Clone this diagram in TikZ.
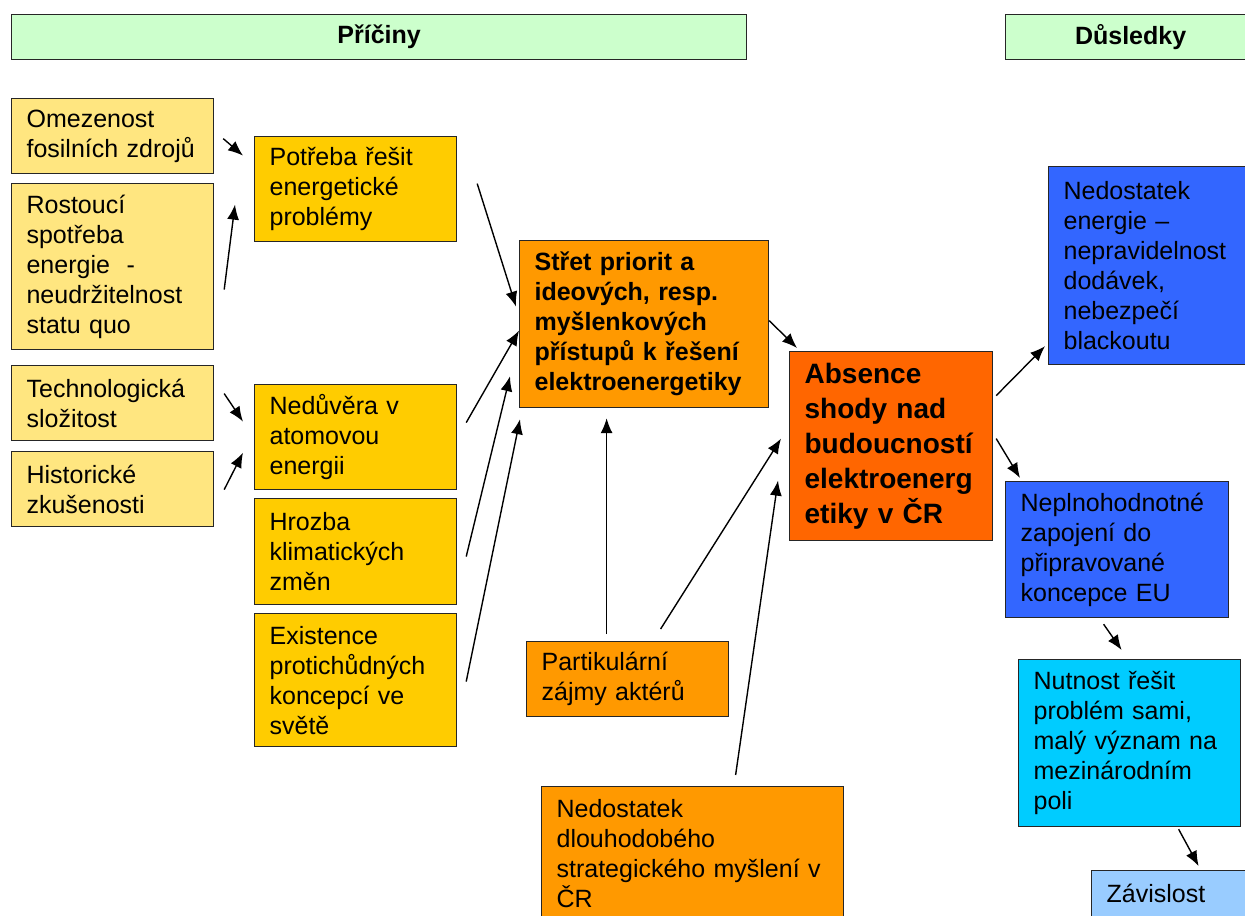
\documentclass[tikz,border=0pt]{standalone}
\usepackage{fontspec}
\setmainfont{Liberation Sans}
\usepackage{tikz}
\usetikzlibrary{arrows.meta}

\definecolor{headgreen}{HTML}{CCFFCC}
\definecolor{paleyellow}{HTML}{FFE680}
\definecolor{causeyellow}{HTML}{FFCC00}
\definecolor{coreorange}{HTML}{FF9900}
\definecolor{resultorange}{HTML}{FF6600}
\definecolor{effectblue}{HTML}{3366FF}
\definecolor{effectcyan}{HTML}{00CCFF}
\definecolor{effectpale}{HTML}{99CCFF}

\newcommand{\bodyfont}{\fontsize{12.5pt}{15pt}\selectfont}

\begin{document}
\begin{tikzpicture}[x=0.5pt,y=-0.5pt,
    head/.style={draw=black!85,line width=0.6pt,fill=headgreen,anchor=north west,inner sep=0pt,font=\bodyfont\bfseries},
    box/.style={draw=black!85,line width=0.6pt,anchor=north west,align=left,inner xsep=7.5pt,inner ysep=2pt,font=\bodyfont},
    conn/.style={-{Latex[length=7.5pt,width=6pt]},line width=0.7pt}]
  \useasboundingbox (0,0) rectangle (1245,915);
  \clip (0,0) rectangle (1245,915);

  % headers
  \node[head,minimum width=367.5pt,minimum height=22.5pt] (pric) at (11,14) {Příčiny};
  \node[head,minimum width=125pt,minimum height=22.5pt] (dusl) at (1005,14) {Důsledky};

  % causes
  \node[box,fill=paleyellow,text width=86pt,minimum height=37.5pt] (omez) at (11,98) {Omezenost\\fosilních zdrojů};
  \node[box,fill=paleyellow,text width=86pt,minimum height=83pt] (rost) at (11,183) {Rostoucí\\spotřeba\\energie\ \ -\\neudržitelnost\\statu quo};
  \node[box,fill=paleyellow,text width=86pt,minimum height=37.5pt] (tech) at (11,365) {Technologická\\složitost};
  \node[box,fill=paleyellow,text width=86pt,minimum height=37.5pt] (hist) at (11,451) {Historické\\zkušenosti};

  \node[box,fill=causeyellow,text width=86pt,minimum height=52.5pt] (potreba) at (254,136) {Potřeba řešit\\energetické\\problémy};
  \node[box,fill=causeyellow,text width=86pt,minimum height=52.5pt] (neduvera) at (254,384) {Nedůvěra v\\atomovou\\energii};
  \node[box,fill=causeyellow,text width=86pt,minimum height=53pt] (hrozba) at (254,498) {Hrozba\\klimatických\\změn};
  \node[box,fill=causeyellow,text width=86pt,minimum height=66.5pt] (exist) at (254,613) {Existence\\protichůdných\\koncepcí ve\\světě};

  \node[box,fill=coreorange,text width=109.5pt,minimum height=83.5pt,font=\bodyfont\bfseries] (stret) at (519,240) {Střet priorit a\\ideových, resp.\\myšlenkových\\přístupů k řešení\\elektroenergetiky};
  \node[box,fill=coreorange,text width=86pt,minimum height=37.5pt] (partik) at (526,641) {Partikulární\\zájmy aktérů};
  \node[box,fill=coreorange,text width=136pt,minimum height=67pt] (nedlouh) at (541,786) {Nedostatek\\dlouhodobého\\strategického myšlení v\\ČR};

  \node[box,fill=resultorange,text width=86.5pt,minimum height=94.5pt,font=\fontsize{14pt}{17.5pt}\selectfont\bfseries] (absence) at (789,351) {Absence\\shody nad\\budoucností\\elektroenerg\\etiky v ČR};

  % consequences
  \node[box,fill=effectblue,text width=85pt,minimum height=99pt] (nedener) at (1048,166) {Nedostatek\\energie –\\nepravidelnost\\dodávek,\\nebezpečí\\blackoutu};
  \node[box,fill=effectblue,text width=96.5pt,minimum height=68pt] (neplno) at (1005,481) {Neplnohodnotné\\zapojení do\\připravované\\koncepce EU};
  \node[box,fill=effectcyan,text width=96pt,minimum height=83.5pt] (nutnost) at (1018,659) {Nutnost řešit\\problém sami,\\malý význam na\\mezinárodním\\poli};
  \node[box,fill=effectpale,text width=65pt,minimum height=23pt] (zavis) at (1091,870) {Závislost};

  % connectors
  \draw[conn] ([shift={(9,2.5)}]omez.east) -- ([shift={(-11,-33.5)}]potreba.west);
  \draw[conn] ([shift={(10,23)}]rost.east) -- ([shift={(-19,15.5)}]potreba.west);
  \draw[conn] ([shift={(10,-9.5)}]tech.east) -- ([shift={(-11,-15.5)}]neduvera.west);
  \draw[conn] ([shift={(10,0.5)}]hist.east) -- ([shift={(-11,15.5)}]neduvera.west);
  \draw[conn] ([shift={(20,-5.5)}]potreba.east) -- ([shift={(-3,-17.5)}]stret.west);
  \draw[conn] ([shift={(9,-14.5)}]neduvera.east) -- ([shift={(0,6.5)}]stret.west);
  \draw[conn] ([shift={(9,5)}]hrozba.east) -- ([shift={(-9,-32)}]stret.south west);
  \draw[conn] ([shift={(9,1.5)}]exist.east) -- ([shift={(1,11)}]stret.south west);
  \draw[conn] ([shift={(-21,-7)}]partik.north) -- ([shift={(-37.5,10)}]stret.south);
  \draw[conn] ([shift={(33,-12)}]partik.north) -- ([shift={(-8,-7.5)}]absence.west);
  \draw[conn] ([shift={(43,-11)}]nedlouh.north) -- ([shift={(-11,34.5)}]absence.west);
  \draw[conn] ([shift={(0,-3.5)}]stret.east) -- ([shift={(8,-3)}]absence.north west);
  \draw[conn] ([shift={(3,-50.5)}]absence.east) -- ([shift={(-3,-19)}]nedener.south west);
  \draw[conn] ([shift={(3,-7.5)}]absence.east) -- ([shift={(15,-3)}]neplno.north west);
  \draw[conn] ([shift={(-13.5,6)}]neplno.south) -- ([shift={(-8,-9)}]nutnost.north);
  \draw[conn] ([shift={(49,2)}]nutnost.south) -- ([shift={(27,-4)}]zavis.north);
\end{tikzpicture}
\end{document}
